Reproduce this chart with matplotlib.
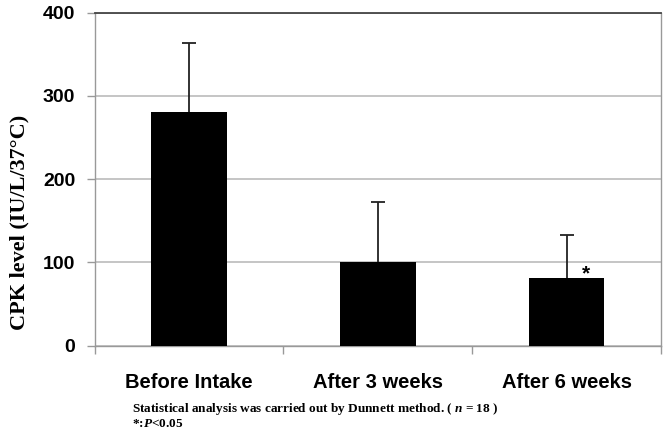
import matplotlib.pyplot as plt

plt.rcParams['mathtext.fontset'] = 'custom'
plt.rcParams['mathtext.rm'] = 'Liberation Serif:bold'
plt.rcParams['mathtext.it'] = 'Liberation Serif:italic:bold'

categories = ["Before Intake", "After 3 weeks", "After 6 weeks"]
cpk_mean = [281, 100, 81]
cpk_sd = [82, 72, 52]
yticks = [0, 100, 200, 300, 400]

fig = plt.figure(figsize=(6.68, 4.48), dpi=100)
ax = fig.add_axes([0.1418, 0.2284, 0.8477, 0.7433])

x = list(range(len(categories)))
tops = [m + s for m, s in zip(cpk_mean, cpk_sd)]
ax.bar(x, cpk_mean, width=0.4, color='black', zorder=3)
# upper error bars only (line + cap)
ax.vlines(x, cpk_mean, tops, color='#222222', linewidth=1.3, zorder=2)
ax.plot(x, tops, linestyle='none', marker='_', markersize=10, markeredgewidth=1.3,
        color='#222222', zorder=2)

ax.annotate("*", xy=(2, cpk_mean[2]), xytext=(14, -4), textcoords='offset points',
            ha='center', va='bottom', fontsize=15, fontweight='bold',
            family='Liberation Sans')

ax.set_xlim(-0.5, 2.5)
ax.set_ylim(0, 400)
ax.set_yticks(yticks)
ax.set_yticklabels([str(v) for v in yticks], fontsize=14, fontweight='bold',
                   family='Liberation Sans')
ax.set_xticks(x)
ax.set_xticklabels(categories, fontsize=14.5, fontweight='bold', family='Liberation Sans')
ax.set_xticks([-0.5, 0.5, 1.5, 2.5], minor=True)
ax.tick_params(axis='x', which='major', length=0, pad=20)
ax.tick_params(axis='x', which='minor', length=6, color='#999999', width=1)
ax.tick_params(axis='y', length=6, color='#999999', width=1, pad=8)

ax.yaxis.grid(True, color='#bbbbbb', linewidth=1.2, zorder=0)
ax.set_axisbelow(True)
for side in ['left', 'bottom', 'right']:
    ax.spines[side].set_color('#999999')
    ax.spines[side].set_linewidth(1)
ax.spines['top'].set_color('#444444')
ax.spines['top'].set_linewidth(1.3)

ax.set_ylabel("CPK level (IU/L/37\u00b0C)", fontsize=16,
              fontweight='bold', family='Liberation Serif')
ax.yaxis.set_label_coords(-0.115, 0.37)

fig.text(0.1976, 0.087, r"Statistical analysis was carried out by Dunnett method. ( $\mathit{n}$ = 18 )",
         fontsize=9.5, fontweight='bold', family='Liberation Serif', va='center')
fig.text(0.1976, 0.053, r"*:$\mathit{P}$<0.05",
         fontsize=9.5, fontweight='bold', family='Liberation Serif', va='center')

fig.savefig("out.png", dpi=100)
